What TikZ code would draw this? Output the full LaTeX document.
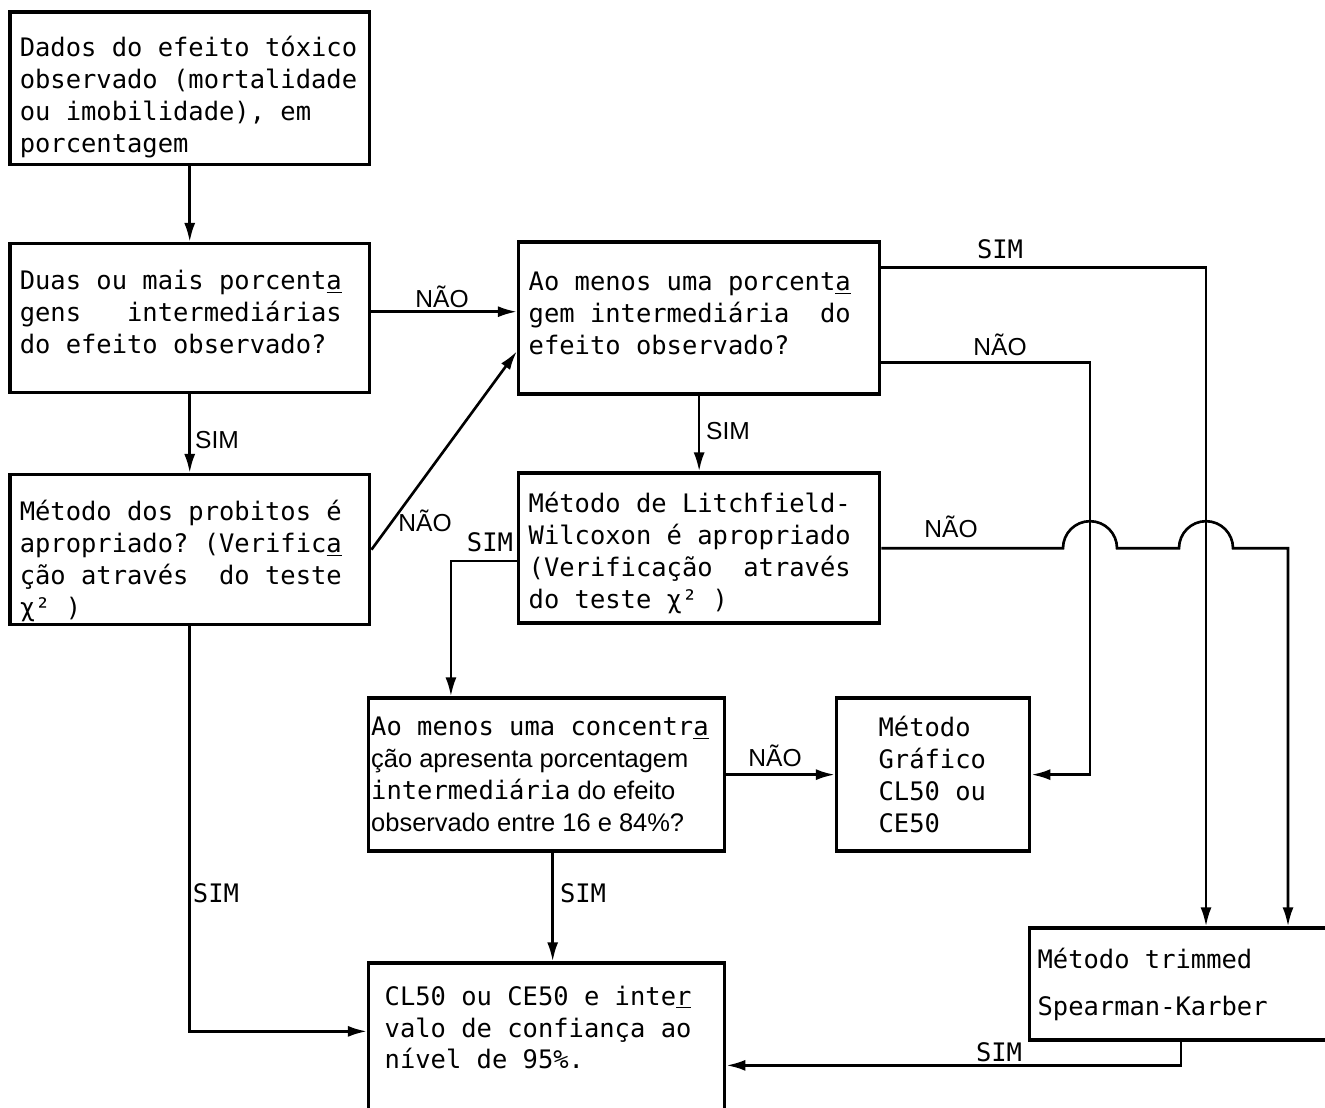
\documentclass[tikz,border=0pt]{standalone}
\usepackage{fontspec}
\setmonofont{DejaVu Sans Mono}
\setsansfont{Liberation Sans}
\usetikzlibrary{arrows.meta, positioning, calc}
\newcommand{\boxfont}{\ttfamily\fontsize{14.5}{18.2}\selectfont}
\newcommand{\sfpart}[1]{{\sffamily #1}}
\newcommand{\topgap}[1]{\rule{0pt}{#1}}
\newcommand{\botgap}[1]{\rule[-#1]{0pt}{#1}}
\tikzset{
  procbox/.style={
    rectangle, draw, line width=2pt,
    align=left, inner xsep=0.2cm, inner ysep=0pt,
    font=\boxfont,
    execute at begin node={\spaceskip=0pt\xspaceskip=0pt}
  },
  arrow/.style={line width=1.5pt, -{Latex[length=0.38cm,width=0.22cm]}},
  answer/.style={font=\sffamily\fontsize{14}{16}\selectfont, inner sep=1pt},
  answertt/.style={font=\ttfamily\fontsize{14.5}{16}\selectfont, inner sep=1pt},
}

\begin{document}
\begin{tikzpicture}[x=0.02cm, y=-0.02cm]
  \path[use as bounding box, fill=white] (0,0) rectangle (1325,1108);

  \node (dados)   [procbox, text width=6.8cm, minimum height=3.06cm, anchor=north west] at (8,10)
    {\topgap{0.75cm}Dados do efeito tóxico\\observado (mortalidade\\ou imobilidade), em\\porcentagem};
  \node (duas)    [procbox, text width=6.8cm, minimum height=2.98cm, below=1.51cm of dados]
    {Duas ou mais porcent\underline{a}\\gens~~~intermediárias\\do efeito observado?\botgap{0.24cm}};
  \node (probit)  [procbox, text width=6.8cm, minimum height=3.0cm, below=1.57cm of duas]
    {\topgap{0.87cm}Método dos probitos é\\apropriado? (Verific\underline{a}\\ção através~~do teste\\χ² )};
  \node (umaporc) [procbox, text width=6.82cm, minimum height=3.04cm, right=2.91cm of duas]
    {Ao menos uma porcent\underline{a}\\gem intermediária~~do\\efeito observado?\botgap{0.2cm}};
  \node (litch)   [procbox, text width=6.82cm, minimum height=3.0cm, below=1.51cm of umaporc]
    {\topgap{0.59cm}Método de Litchfield-\\Wilcoxon é apropriado\\(Verificação~~através\\do teste χ² )};
  \node (concent) [procbox, text width=7.02cm, inner xsep=0.05cm, minimum height=3.06cm,
                   below=1.43cm of litch.south west, anchor=north west, xshift=-3cm]
    {Ao menos uma concentr\underline{a}\\\sfpart{ção apresenta porcentagem}\\intermediária\sfpart{ do efeito}\\\sfpart{observado entre 16 e 84\%?}};
  \node (grafico) [procbox, text width=2.18cm, inner xsep=0.84cm, minimum height=3.06cm, right=2.17cm of concent]
    {Método\\Gráfico\\CL50 ou\\CE50};
  \node (result)  [procbox, text width=6.48cm, inner xsep=0.32cm, minimum height=3.4cm, below=2.17cm of concent]
    {CL50 ou CE50 e inte\underline{r}\\valo de confiança ao\\nível de 95\%.\\\strut};
  \node (trimmed) [procbox, text width=8cm, inner xsep=0.16cm, minimum height=2.24cm,
                   below=1.47cm of grafico.south east, anchor=north west, xshift=-0.07cm]
    {Método trimmed\\[0.3cm]Spearman-Karber};

  % vertical lines on the right
  \coordinate (xa) at (1090,0);
  \coordinate (xb) at (1206,0);
  \coordinate (xc) at (1288,0);

  \draw [arrow] (dados) -- (duas);
  \draw [arrow] ([yshift=0.13cm]duas.east) -- ([yshift=0.13cm]duas.east -| umaporc.west);
  \draw [arrow] (duas) -- (probit);
  \draw [arrow] (probit.east) -- ([yshift=-0.66cm]umaporc.west);
  \draw [arrow] (probit.south) |- ([yshift=-1.4cm]result.north west);
  \draw [arrow] (umaporc) -- (litch);
  \draw [arrow] ([yshift=-0.54cm]umaporc.north east) -| (trimmed.north -| xb);
  \draw [arrow] ([yshift=-2.44cm]umaporc.north east) -| (xa |- grafico.east) -- (grafico.east);
  \draw [arrow] (litch.east) -- ($(litch.east -| xa)+(-27,0)$)
    arc[start angle=180, end angle=0, radius=0.54cm] -- ($(litch.east -| xb)+(-27,0)$)
    arc[start angle=180, end angle=0, radius=0.54cm] -| (trimmed.north -| xc);
  \draw [arrow] ([yshift=-0.26cm]litch.west) -| ([xshift=1.68cm]concent.north west);
  \draw [arrow] (concent) -- (grafico);
  \draw [arrow] ([xshift=0.12cm]concent.south) -- ([xshift=0.12cm]result.north);
  \draw [arrow] ([xshift=3.06cm]trimmed.south west) |- ([yshift=-2.08cm]result.north east);

  \node (nao1) [answer]   at (442,297)  {NÃO};
  \node (sim1) [answer]   at (217,440)  {SIM};
  \node (nao2) [answer]   at (425,521)  {NÃO};
  \node (sim2) [answertt] at (216,893)  {SIM};
  \node (sim3) [answer]   at (728,431)  {SIM};
  \node (sim4) [answertt] at (1000,249) {SIM};
  \node (nao3) [answer]   at (1000,345) {NÃO};
  \node (nao4) [answer]   at (951,527)  {NÃO};
  \node (sim5) [answertt] at (490,542)  {SIM};
  \node (nao5) [answer]   at (775,756)  {NÃO};
  \node (sim6) [answertt] at (583,893)  {SIM};
  \node (sim7) [answertt] at (999,1052) {SIM};
\end{tikzpicture}
\end{document}
